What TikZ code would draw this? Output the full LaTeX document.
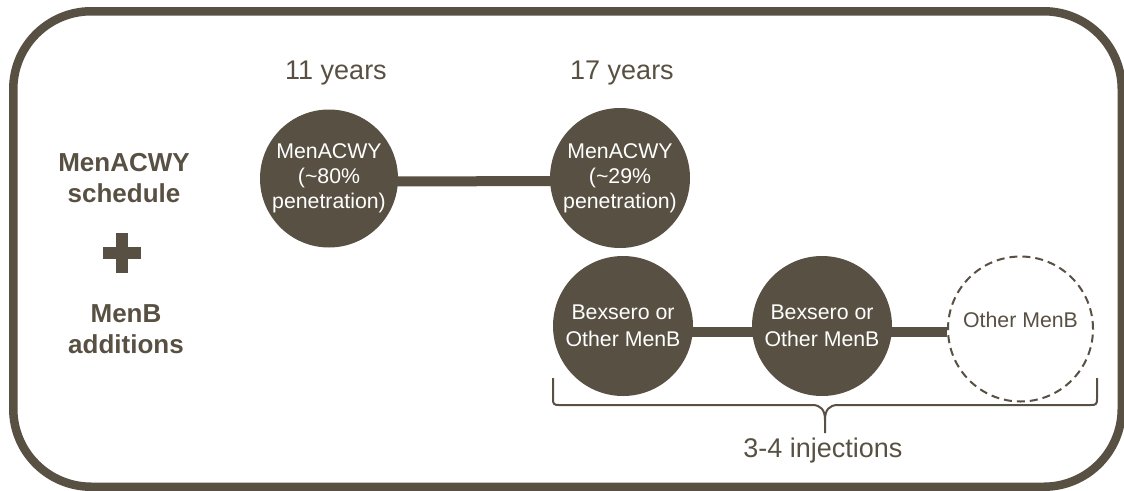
\documentclass[tikz,border=0pt]{standalone}
\usepackage{fontspec}
\setmainfont{Liberation Sans}
\usetikzlibrary{backgrounds}
\definecolor{brown}{RGB}{88,80,66}
\begin{document}
\begin{tikzpicture}[x=1pt,y=-1pt,
  frame/.style={draw=brown,line width=8.5pt,rounded corners=78pt},
  dose/.style={circle,fill=brown,text=white,inner sep=0pt,align=center,
    font=\fontsize{21.3}{25}\selectfont},
  doseB/.style={dose,font=\fontsize{21.3}{27}\selectfont},
  optdose/.style={circle,draw=brown,line width=2pt,dash pattern=on 8pt off 5pt,
    text=brown,inner sep=0pt,font=\fontsize{21.3}{26}\selectfont},
  age/.style={anchor=base,text=brown,font=\fontsize{27}{32}\selectfont},
  side/.style={text=brown,align=center,font=\bfseries\fontsize{26}{31.5}\selectfont},
  conn/.style={draw=brown,line width=10pt},
  bracestyle/.style={draw=brown,line width=2pt},
  note/.style={text=brown,font=\fontsize{27}{32}\selectfont}]
\useasboundingbox (0,0) rectangle (1124,490);
\draw[frame] (13.25,11.25) rectangle (1121.75,486.75);

% left labels
\node[side] (sched) at (124,178) {MenACWY\\schedule};
\fill[brown] (116,233) rectangle (128,273);
\fill[brown] (103,247) rectangle (141,259);
\node[side] (menb) at (126,329) {MenB\\additions};

% ages
\node[age] (a11) at (336,79) {11 years};
\node[age] (a17) at (622,79) {17 years};

% doses
\node[dose,minimum size=138pt] (c1) at (329,178.5) {MenACWY\\(\textasciitilde80\%\\penetration)};
\node[dose,minimum size=140pt] (c2) at (620,178) {MenACWY\\(\textasciitilde29\%\\penetration)};
\node[doseB,minimum size=140pt] (c3) at (623,326) {Bexsero or\\Other MenB};
\node[doseB,minimum size=140pt] (c4) at (822,326) {Bexsero or\\Other MenB};
\node[optdose,minimum size=145pt,text depth=18pt] (c5) at (1020.5,329) {Other MenB};

\begin{scope}[on background layer]
\draw[conn] ([yshift=-3pt]c1.center) -- ([yshift=-3pt]c2.center);
\draw[conn] ([yshift=-6pt]c3.center) -- ([yshift=-6pt]c4.center);
\draw[conn] ([yshift=-6pt]c4.center) -- ([yshift=-3pt]c5.west);
\end{scope}

% brace
\coordinate (bl) at (553,378);
\coordinate (br) at (1097,378);
\coordinate (bt) at (825,433);
\draw[bracestyle] (bl) -- (553,399) .. controls (553,404) and (554,405) .. (559,405)
  -- (812,405) .. controls (821,405) and (825,410) .. (825,420) -- (bt);
\draw[bracestyle] (825,420) .. controls (825,410) and (829,405) .. (838,405)
  -- (1091,405) .. controls (1096,405) and (1097,404) .. (1097,399) -- (br);
\node[note,anchor=base] (inj) at (823,457) {3-4 injections};
\end{tikzpicture}
\end{document}
